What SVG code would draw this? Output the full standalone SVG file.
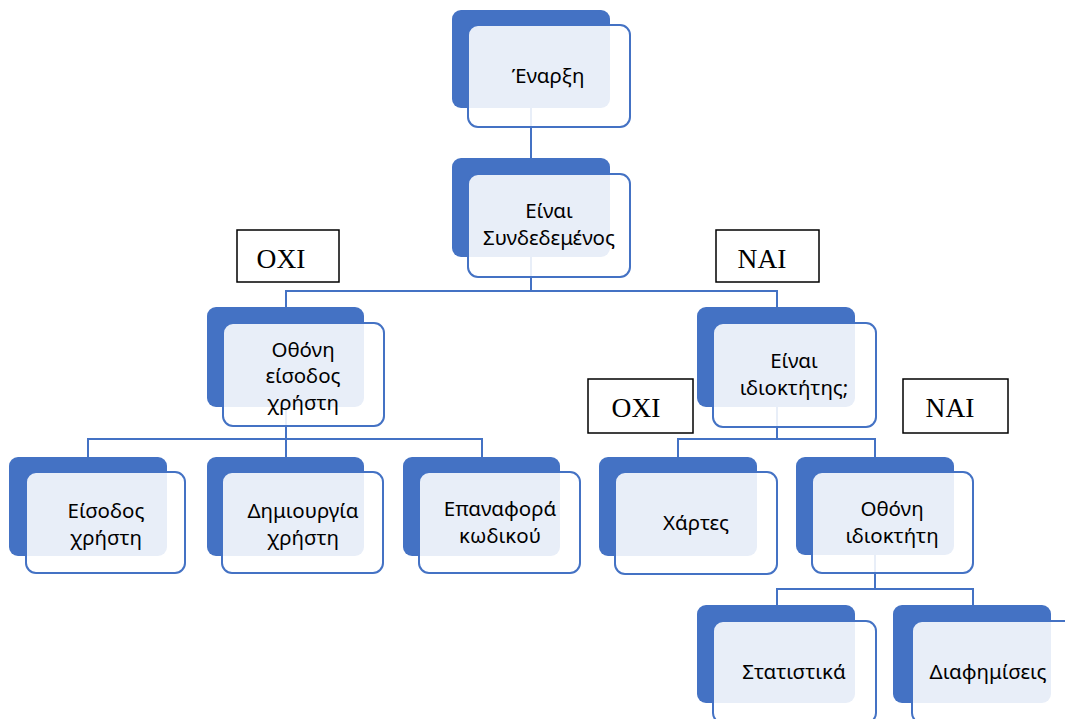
<svg xmlns="http://www.w3.org/2000/svg" width="1065" height="719" viewBox="0 0 1065 719">
<style>
.bg{fill:#ffffff}
.back{fill:#4472C4}
.frame{fill:#ffffff;fill-opacity:0.88;stroke:#4472C4;stroke-width:2}
.conn{fill:none;stroke:#4472C4;stroke-width:2}
.t{font-family:"Noto Sans","Open Sans",sans-serif;font-size:20.5px;fill:#000000;text-anchor:middle}
.lbl{fill:#ffffff;stroke:#000000;stroke-width:1.5}
.lt{font-family:"Liberation Serif","Times New Roman",serif;font-size:27.5px;fill:#000000;text-anchor:middle}
</style>
<rect class="bg" x="0" y="0" width="1065" height="719"/>
<g id="connectors">
<path class="conn" d="M531 108 V158"/>
<path class="conn" d="M531 257 V291 M286 307 V291 H777 V307"/>
<path class="conn" d="M286 407 V439 M88 457 V439 H482 V457 M286 439 V457"/>
<path class="conn" d="M777 407 V439 M678 457 V439 H875 V457"/>
<path class="conn" d="M875 555 V589 M777 605 V589 H973 V605"/>
</g>
<g id="node-enarxi">
<rect class="back" x="452" y="10" width="158" height="98" rx="9"/>
<rect class="frame" x="468" y="25" width="162" height="102" rx="10"/>
<text class="t" x="548" y="83">Έναρξη</text>
</g>
<g id="node-syndedemenos">
<rect class="back" x="452" y="158" width="158" height="99" rx="9"/>
<rect class="frame" x="468" y="174" width="162" height="103" rx="10"/>
<text class="t" x="549" y="218">Είναι</text>
<text class="t" x="549" y="245">Συνδεδεμένος</text>
</g>
<g id="node-othoni-eisodou">
<rect class="back" x="207" y="307" width="157" height="100" rx="9"/>
<rect class="frame" x="223" y="323" width="161" height="103" rx="10"/>
<text class="t" x="303" y="357">Οθόνη</text>
<text class="t" x="303" y="383">είσοδος</text>
<text class="t" x="303" y="410">χρήστη</text>
</g>
<g id="node-idioktitis">
<rect class="back" x="697" y="307" width="158" height="100" rx="9"/>
<rect class="frame" x="713" y="323" width="163" height="104" rx="10"/>
<text class="t" x="794" y="368">Είναι</text>
<text class="t" x="794" y="395">ιδιοκτήτης;</text>
</g>
<g id="node-eisodos">
<rect class="back" x="9" y="457" width="158" height="99" rx="9"/>
<rect class="frame" x="26" y="472" width="159" height="101" rx="10"/>
<text class="t" x="106" y="518">Είσοδος</text>
<text class="t" x="106" y="545">χρήστη</text>
</g>
<g id="node-dimiourgia">
<rect class="back" x="207" y="457" width="157" height="99" rx="9"/>
<rect class="frame" x="222" y="472" width="161" height="101" rx="10"/>
<text class="t" x="303" y="518">Δημιουργία</text>
<text class="t" x="303" y="545">χρήστη</text>
</g>
<g id="node-epanafora">
<rect class="back" x="403" y="457" width="157" height="99" rx="9"/>
<rect class="frame" x="419" y="472" width="161" height="101" rx="10"/>
<text class="t" x="500" y="516">Επαναφορά</text>
<text class="t" x="500" y="543">κωδικού</text>
</g>
<g id="node-xartes">
<rect class="back" x="599" y="457" width="158" height="99" rx="9"/>
<rect class="frame" x="615" y="472" width="162" height="102" rx="10"/>
<text class="t" x="696" y="530">Χάρτες</text>
</g>
<g id="node-othoni-idioktiti">
<rect class="back" x="796" y="457" width="158" height="98" rx="9"/>
<rect class="frame" x="812" y="472" width="161" height="101" rx="10"/>
<text class="t" x="892" y="516">Οθόνη</text>
<text class="t" x="892" y="543">ιδιοκτήτη</text>
</g>
<g id="node-statistika">
<rect class="back" x="697" y="605" width="158" height="98" rx="9"/>
<rect class="frame" x="713" y="621" width="163" height="102" rx="10"/>
<text class="t" x="794" y="679">Στατιστικά</text>
</g>
<g id="node-diafimiseis">
<rect class="back" x="893" y="605" width="158" height="98" rx="9"/>
<rect class="frame" x="912" y="621" width="162" height="102" rx="10"/>
<text class="t" x="988" y="679">Διαφημίσεις</text>
</g>
<g id="label-oxi-1">
<rect class="lbl" x="237" y="230" width="102" height="52"/>
<text class="lt" x="281" y="268">ΟΧΙ</text>
</g>
<g id="label-nai-1">
<rect class="lbl" x="716" y="230" width="103" height="52"/>
<text class="lt" x="762" y="268">ΝΑΙ</text>
</g>
<g id="label-oxi-2">
<rect class="lbl" x="588" y="379" width="105" height="54"/>
<text class="lt" x="636" y="417">ΟΧΙ</text>
</g>
<g id="label-nai-2">
<rect class="lbl" x="903" y="379" width="105" height="54"/>
<text class="lt" x="950" y="417">ΝΑΙ</text>
</g>
</svg>
